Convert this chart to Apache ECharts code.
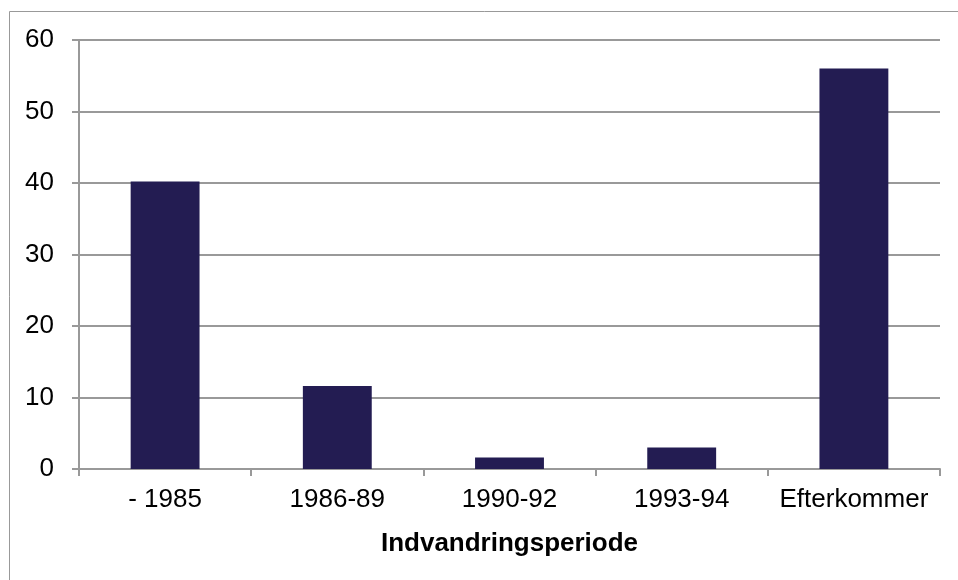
<!DOCTYPE html>
<html>
<head>
<meta charset="utf-8">
<script src="https://cdn.jsdelivr.net/npm/echarts@6/dist/echarts.min.js"></script>
<style>
  html, body { margin: 0; padding: 0; background: #fff; }
  #chart { width: 958px; height: 580px; }
</style>
</head>
<body>
<div id="chart"></div>
<script>
// data
var categories = ['- 1985', '1986-89', '1990-92', '1993-94', 'Efterkommer'];
var values = [40.2, 11.6, 1.6, 3.0, 56.0];
var axisTitle = 'Indvandringsperiode';

var myChart = echarts.init(document.getElementById('chart'));
myChart.setOption({
    animation: false,
    textStyle: {
        fontFamily: 'Liberation Sans, Arial, sans-serif',
    },
    graphic: [{
        type: 'rect',
        shape: { x: 9.5, y: 11.5, width: 1000, height: 1000 },
        style: { fill: 'none', stroke: '#999', lineWidth: 1 },
        silent: true,
    }],
    grid: {
        top: 40,
        left: 79,
        right: 18,
        bottom: 111,
    },
    xAxis: {
        type: 'category',
        data: categories,
        name: axisTitle,
        nameLocation: 'middle',
        nameGap: 62,
        nameTextStyle: {
            color: '#000',
            fontSize: 26,
            fontWeight: 'bold',
        },
        axisLabel: {
            color: '#000',
            fontSize: 26,
            margin: 18,
            interval: 0,
            hideOverlap: false,
        },
        axisTick: {
            show: true,
            length: 7,
            interval: 0,
            alignWithLabel: false,
            lineStyle: { color: '#999', width: 2 },
        },
        axisLine: {
            lineStyle: { color: '#999', width: 2 },
        },
    },
    yAxis: {
        type: 'value',
        min: 0,
        max: 60,
        interval: 10,
        axisLabel: {
            color: '#000',
            fontSize: 26,
            margin: 25,
        },
        axisTick: {
            show: true,
            length: 7,
            lineStyle: { color: '#999', width: 2 },
        },
        axisLine: {
            show: true,
            lineStyle: { color: '#999', width: 2 },
        },
        splitLine: {
            show: true,
            lineStyle: { color: '#999', width: 2 },
        },
    },
    series: [{
        type: 'bar',
        data: values,
        barWidth: '40%',
        itemStyle: {
            color: '#231C52',
        },
    }],
});
</script>
</body>
</html>
